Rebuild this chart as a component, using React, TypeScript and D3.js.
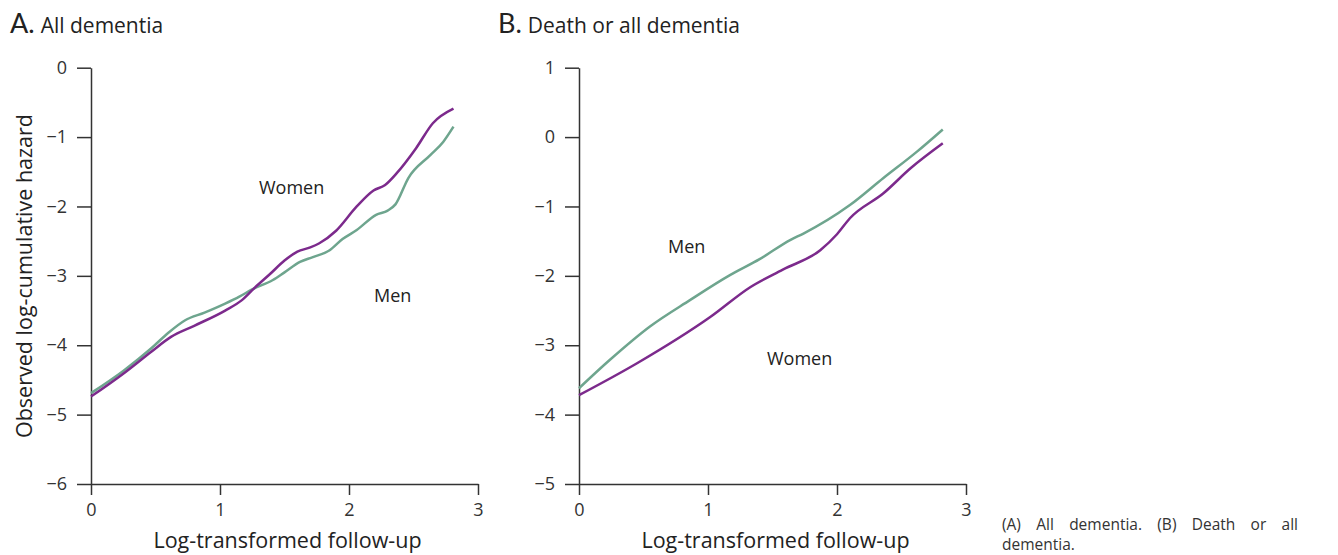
import React, { useRef, useEffect } from "react";
import * as d3 from "d3";

// follow-up (log) / log-cumulative hazard
const xTicks = [0, 1, 2, 3];
const yTicksA = [0, -1, -2, -3, -4, -5, -6];
const yTicksB = [1, 0, -1, -2, -3, -4, -5];

const womenA: [number, number][] = [
  [0, -4.74], [0.25, -4.41], [0.47, -4.09], [0.62, -3.88], [0.8, -3.72],
  [1.04, -3.5], [1.17, -3.35], [1.27, -3.17], [1.39, -2.97], [1.5, -2.78],
  [1.6, -2.65], [1.7, -2.59], [1.77, -2.53], [1.9, -2.35], [2.06, -2.0],
  [2.19, -1.77], [2.28, -1.69], [2.37, -1.52], [2.52, -1.16], [2.65, -0.8],
  [2.81, -0.59],
];
const menA: [number, number][] = [
  [0, -4.69], [0.25, -4.37], [0.47, -4.04], [0.6, -3.82], [0.73, -3.64],
  [0.88, -3.53], [1.04, -3.4], [1.15, -3.3], [1.245, -3.2], [1.41, -3.06],
  [1.5, -2.95], [1.62, -2.8], [1.72, -2.73], [1.85, -2.63], [1.95, -2.47],
  [2.06, -2.34], [2.21, -2.12], [2.3, -2.06], [2.36, -1.97], [2.46, -1.59],
  [2.63, -1.26], [2.73, -1.07], [2.81, -0.85],
];
const womenB: [number, number][] = [
  [0, -3.72], [0.45, -3.26], [1.02, -2.59], [1.33, -2.16], [1.58, -1.91],
  [1.87, -1.63], [2.0, -1.4], [2.1, -1.17], [2.36, -0.81], [2.57, -0.45],
  [2.82, -0.09],
];
const menB: [number, number][] = [
  [0, -3.62], [0.24, -3.21], [0.55, -2.73], [0.86, -2.35], [1.17, -1.99],
  [1.4, -1.76], [1.64, -1.48], [1.74, -1.39], [2.1, -0.98], [2.36, -0.59],
  [2.62, -0.21], [2.82, 0.11],
];

const PURPLE = "#7c2a8c";
const GREEN = "#6ea58e";
const FONT = "'Open Sans', sans-serif";
const TOP = 67.7;
const BOTTOM = 484;

function Panel({ left, letter, title, women, men, yTicks, labels }) {
  const gRef = useRef();

  useEffect(() => {
    const g = d3.select(gRef.current);
    g.selectAll("*").remove();
    const x = d3.scaleLinear().domain([0, 3]).range([left, left + 387]);
    const y = d3
      .scaleLinear()
      .domain([d3.min(yTicks), d3.max(yTicks)])
      .range([BOTTOM, TOP]);
    const fmt = d3.format("d");

    const yAxis = g
      .append("g")
      .attr("transform", `translate(${left},0)`)
      .call(d3.axisLeft(y).tickValues(yTicks).tickFormat(fmt).tickSize(14).tickSizeOuter(0).tickPadding(10));
    const xAxis = g
      .append("g")
      .attr("transform", `translate(0,${BOTTOM})`)
      .call(d3.axisBottom(x).tickValues(xTicks).tickFormat(fmt).tickSize(11).tickSizeOuter(0).tickPadding(8));

    [yAxis, xAxis].forEach((a) => {
      a.selectAll("path, line").attr("stroke", "#333").attr("stroke-width", 1.5);
      a.selectAll("text")
        .attr("font-family", FONT)
        .attr("font-size", 18)
        .attr("fill", "#333");
    });

    const line = d3
      .line()
      .x((d) => x(d[0]))
      .y((d) => y(d[1]))
      .curve(d3.curveMonotoneX);

    g.append("path").datum(men).attr("d", line).attr("fill", "none")
      .attr("stroke", GREEN).attr("stroke-width", 2.5);
    g.append("path").datum(women).attr("d", line).attr("fill", "none")
      .attr("stroke", PURPLE).attr("stroke-width", 2.5);

    labels.forEach((l) => {
      g.append("text")
        .attr("x", l.x)
        .attr("y", l.y)
        .attr("font-family", FONT)
        .attr("font-size", 18)
        .attr("fill", "#222")
        .text(l.text);
    });

    g.append("text")
      .attr("x", left + 387 / 2 + 3)
      .attr("y", 548)
      .attr("text-anchor", "middle")
      .attr("font-family", FONT)
      .attr("font-size", 21.5)
      .attr("fill", "#222")
      .text("Log-transformed follow-up");

    const t = g.append("text").attr("x", left - 81).attr("y", 33).attr("fill", "#222");
    t.append("tspan").attr("font-family", "Lato, sans-serif").attr("font-size", 27).text(letter + ".");
    t.append("tspan").attr("font-family", FONT).attr("font-size", 21).attr("dx", 6).text(title);
  }, [left, letter, title, women, men, yTicks, labels]);

  return <g ref={gRef} />;
}

const labelsA = [
  { text: "Women", x: 259, y: 194 },
  { text: "Men", x: 374, y: 302 },
];
const labelsB = [
  { text: "Men", x: 668, y: 253 },
  { text: "Women", x: 767, y: 365 },
];

function Caption() {
  const ref = useRef();
  useEffect(() => {
    const g = d3.select(ref.current);
    g.selectAll("*").remove();
    const line1 = g
      .append("text")
      .attr("x", 1002)
      .attr("y", 530)
      .attr("font-family", FONT)
      .attr("font-size", 15.5)
      .attr("fill", "#333")
      .text("(A) All dementia. (B) Death or all");
    const natural = (line1.node() as SVGTextElement).getComputedTextLength();
    line1.attr("word-spacing", (296 - natural) / 6);
    g.append("text")
      .attr("x", 1002)
      .attr("y", 550)
      .attr("font-family", FONT)
      .attr("font-size", 15.5)
      .attr("fill", "#333")
      .text("dementia.");
  }, []);
  return <g ref={ref} />;
}

export default function App() {
  return (
    <svg
      width={1338}
      height={555}
      style={{ position: "absolute", left: 0, top: 0, background: "#fff" }}
    >
      <Panel left={91} letter="A" title="All dementia" women={womenA} men={menA} yTicks={yTicksA} labels={labelsA} />
      <Panel left={579} letter="B" title="Death or all dementia" women={womenB} men={menB} yTicks={yTicksB} labels={labelsB} />
      <Caption />
      <text
        transform="translate(32,276) rotate(-90)"
        textAnchor="middle"
        fontFamily={FONT}
        fontSize={21.5}
        fill="#222"
      >
        Observed log-cumulative hazard
      </text>
    </svg>
  );
}
